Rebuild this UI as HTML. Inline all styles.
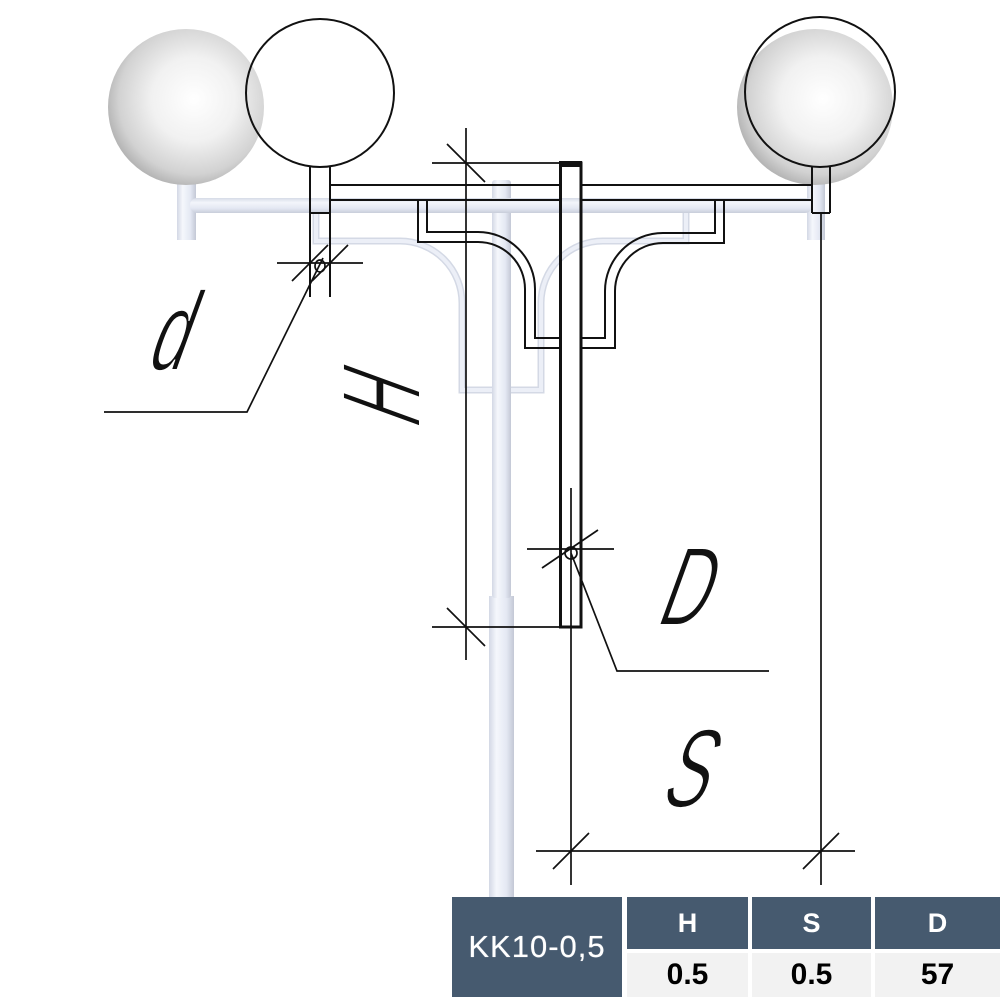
<!DOCTYPE html>
<html><head><meta charset="utf-8"><style>
html,body{margin:0;padding:0;background:#fff;}
#w{position:relative;width:1000px;height:1000px;overflow:hidden;background:#fff;font-family:"Liberation Sans",sans-serif;}
svg{position:absolute;left:0;top:0;}
.c{position:absolute;display:flex;align-items:center;justify-content:center;}
.h{background:#465a6f;color:#fff;}
.v{background:#f2f2f2;color:#000;font-weight:bold;}
</style></head><body><div id="w">
<svg width="1000" height="1000" viewBox="0 0 1000 1000">
<defs>
<radialGradient id="sph" cx="0.55" cy="0.45" r="0.6">
<stop offset="0" stop-color="#ffffff"/>
<stop offset="0.45" stop-color="#f1f1f1"/>
<stop offset="0.8" stop-color="#d2d2d2"/>
<stop offset="1" stop-color="#a9a9a9"/>
</radialGradient>
<linearGradient id="vg" x1="0" y1="0" x2="1" y2="0">
<stop offset="0" stop-color="#d3d8e5"/>
<stop offset="0.3" stop-color="#f5f7fc"/>
<stop offset="0.7" stop-color="#e4e8f3"/>
<stop offset="1" stop-color="#c3c8d5"/>
</linearGradient>
<linearGradient id="hg" x1="0" y1="0" x2="0" y2="1">
<stop offset="0" stop-color="#d6dbe7"/>
<stop offset="0.3" stop-color="#f3f5fb"/>
<stop offset="0.7" stop-color="#e3e7f2"/>
<stop offset="1" stop-color="#c8cdda"/>
</linearGradient>
</defs>

<!-- gray 3D structure -->
<path d="M316,213 V241 H400 A62,62 0 0 1 462,303 V390 H541 V303 A62,62 0 0 1 603,241 H686 V213" fill="none" stroke="#d4d9e5" stroke-width="7"/>
<path d="M316,213 V241 H400 A62,62 0 0 1 462,303 V390 H541 V303 A62,62 0 0 1 603,241 H686 V213" fill="none" stroke="#eceff7" stroke-width="4"/>
<rect x="177" y="176" width="19" height="64" fill="url(#vg)"/>
<rect x="807" y="176" width="18" height="64" fill="url(#vg)"/>
<rect x="190" y="198" width="622" height="15" rx="7" fill="url(#hg)"/>
<rect x="489" y="596" width="25" height="310" fill="url(#vg)"/>
<rect x="492" y="180" width="19" height="418" rx="3" fill="url(#vg)"/>
<rect x="492" y="198" width="19" height="15" fill="url(#hg)"/>
<circle cx="186" cy="107" r="78" fill="url(#sph)"/>
<circle cx="815" cy="107" r="78" fill="url(#sph)"/>

<!-- black drawing -->
<g fill="none" stroke="#111" stroke-width="2">
<circle cx="320" cy="93" r="74"/>
<circle cx="820" cy="92" r="75"/>
<path d="M310,167 V297 M330,167 V297 M310,213 H330"/>
<path d="M812,167 V213 M830,167 V213 M812,213 H830"/>
<path d="M330,185 H560 M581,185 H812 M330,200 H560 M581,200 H812"/>
<path d="M427,200 V232 H478 A57,57 0 0 1 535,289 V338 H560"/>
<path d="M418,200 V242 H478 A47,47 0 0 1 525,289 V348 H560"/>
<path d="M715,200 V233 H663 A58,58 0 0 0 605,291 V338 H581"/>
<path d="M724,200 V243 H663 A48,48 0 0 0 615,291 V348 H581"/>
<rect x="560.5" y="163" width="20.5" height="464" stroke-width="3"/>
</g>
<rect x="559" y="161" width="23" height="6" fill="#111"/>

<!-- dimensions -->
<g fill="none" stroke="#111" stroke-width="1.7">
<path d="M466,128 V660 M432,163 H560 M432,627 H560 M447,144 L485,182 M447,608 L485,646"/>
<path d="M277,263 H363 M292,281 L328,245 M312,281 L348,245 M323,258 L247,412 H104"/>
<ellipse cx="320" cy="266" rx="5" ry="6"/>
<path d="M571,488 V885 M527,549 H614 M542,568 L598,530 M571,553 L617,671 H769"/>
<circle cx="571" cy="553" r="6"/>
<path d="M536,851 H855 M821,213 V885 M553,869 L589,833 M803,869 L839,833"/>
</g>

<!-- letters -->
<g font-family="Liberation Sans, sans-serif" font-size="112" fill="#111" stroke="#fff" stroke-width="2">
<text transform="translate(144,370) skewX(-20) scale(0.6,1)" x="0" y="0">d</text>
<text transform="translate(379,394) rotate(-90) skewX(-20) scale(0.55,1)" x="0" y="41" text-anchor="middle">H</text>
<text transform="translate(654,625) skewX(-20) scale(0.6,1)" x="0" y="0">D</text>
<text transform="translate(658,807) skewX(-20) scale(0.6,1)" x="0" y="0">S</text>
</g>
</svg>

<div class="c h" style="left:452px;top:897px;width:170px;height:100px;font-size:31px;letter-spacing:1px;text-shadow:0 0 0.6px #fff;">KK10-0,5</div>
<div class="c h" style="left:627px;top:897px;width:121px;height:52px;font-size:27px;font-weight:bold;">H</div>
<div class="c h" style="left:752px;top:897px;width:119px;height:52px;font-size:27px;font-weight:bold;">S</div>
<div class="c h" style="left:875px;top:897px;width:125px;height:52px;font-size:27px;font-weight:bold;">D</div>
<div class="c v" style="left:627px;top:953px;width:121px;height:44px;font-size:30px;">0.5</div>
<div class="c v" style="left:752px;top:953px;width:119px;height:44px;font-size:30px;">0.5</div>
<div class="c v" style="left:875px;top:953px;width:125px;height:44px;font-size:30px;">57</div>
</div></body></html>
